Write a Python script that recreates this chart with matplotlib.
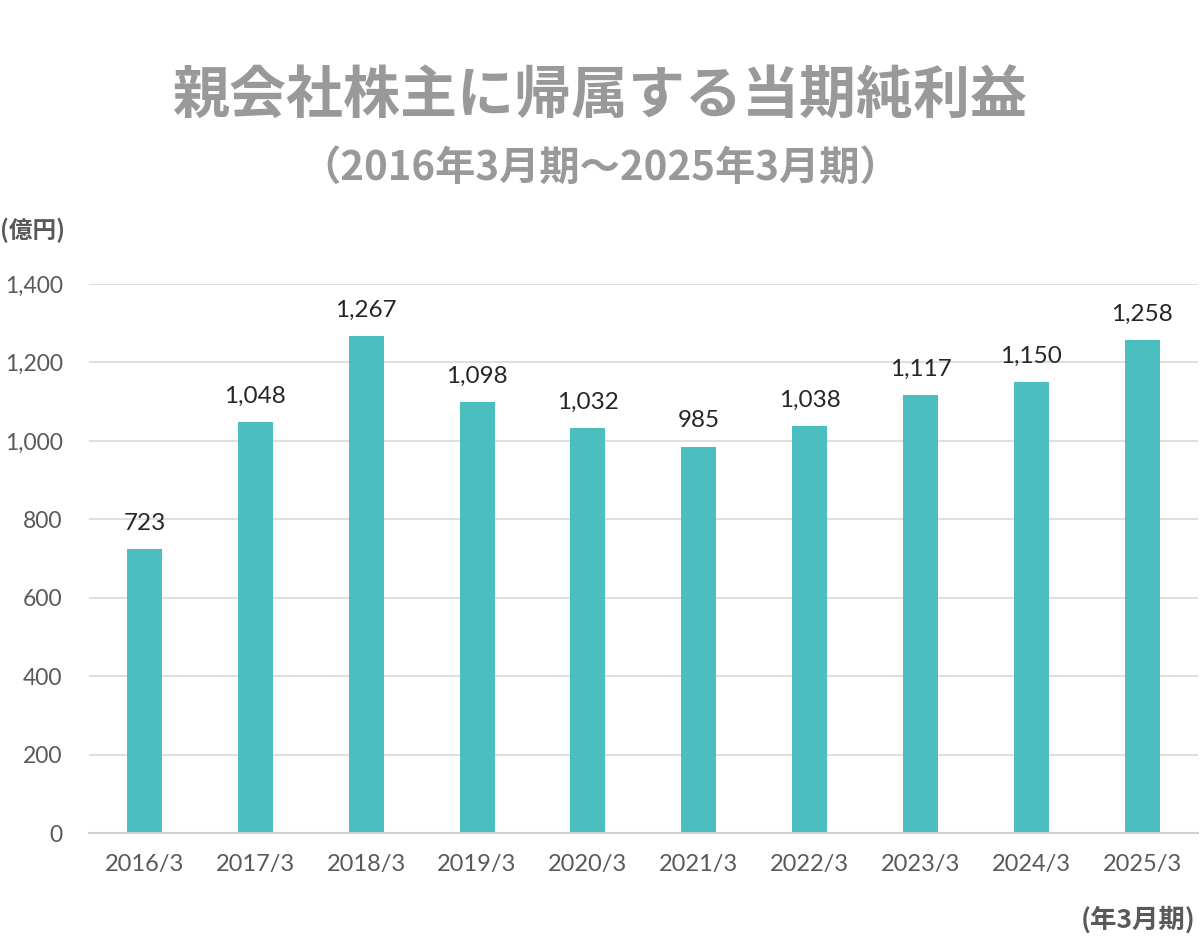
import matplotlib
matplotlib.use("Agg")
import numpy as np
from matplotlib import pyplot as plt
from matplotlib.ticker import FuncFormatter

years = ["2016/3", "2017/3", "2018/3", "2019/3", "2020/3",
         "2021/3", "2022/3", "2023/3", "2024/3", "2025/3"]
net_income = [723, 1048, 1267, 1098, 1032, 985, 1038, 1117, 1150, 1258]
y_ticks = [0, 200, 400, 600, 800, 1000, 1200, 1400]

BAR_COLOR = "#4bbfbf"
TITLE_COLOR = "#999999"
TICK_COLOR = "#595959"
CJK = ["Noto Sans CJK JP", "DejaVu Sans"]
NUM = ["Lato", "DejaVu Sans"]

fig = plt.figure(figsize=(12, 9.52), dpi=100)
ax = fig.add_axes([0.0742, 0.125, 0.9238, 0.5767])

x = np.arange(len(years))
ax.bar(x, net_income, width=0.316, color=BAR_COLOR, zorder=3)

for xi, v in zip(x, net_income):
    ax.annotate(f"{v:,}", (xi, v), xytext=(0, 11), textcoords="offset points",
                ha="center", va="bottom", fontsize=17.5, color="#262626",
                family=NUM)

ax.set_xlim(-0.5, len(years) - 0.5)
ax.set_ylim(0, 1400)
ax.set_yticks(y_ticks)
ax.yaxis.set_major_formatter(FuncFormatter(lambda v, p: f"{int(v):,}"))
ax.set_xticks(x)
ax.set_xticklabels(years)

ax.grid(axis="y", color="#d9d9d9", linewidth=1.2, zorder=0)
for side in ["top", "right", "left"]:
    ax.spines[side].set_visible(False)
ax.spines["bottom"].set_color("#d0d0d0")
ax.spines["bottom"].set_linewidth(1.5)
ax.spines["bottom"].set_zorder(4)
ax.tick_params(axis="both", length=0, colors=TICK_COLOR, labelsize=17)
ax.tick_params(axis="y", pad=19, labelsize=16.5)
ax.tick_params(axis="x", pad=15)
for lbl in ax.get_xticklabels() + ax.get_yticklabels():
    lbl.set_family(NUM)

fig.text(0.5, 0.898, "親会社株主に帰属する当期純利益", ha="center", va="center",
         fontsize=41, fontweight="bold", color=TITLE_COLOR, family=CJK)
fig.text(0.5, 0.823, "（2016年3月期～2025年3月期）", ha="center", va="center",
         fontsize=29, fontweight="bold", color=TITLE_COLOR, family=CJK)
fig.text(0.0, 0.758, "(億円)", ha="left", va="center",
         fontsize=17, fontweight="bold", color=TICK_COLOR, family=CJK)
fig.text(0.996, 0.034, "(年3月期)", ha="right", va="center",
         fontsize=19, fontweight="bold", color=TICK_COLOR, family=CJK)

fig.savefig("out.png", dpi=100)
